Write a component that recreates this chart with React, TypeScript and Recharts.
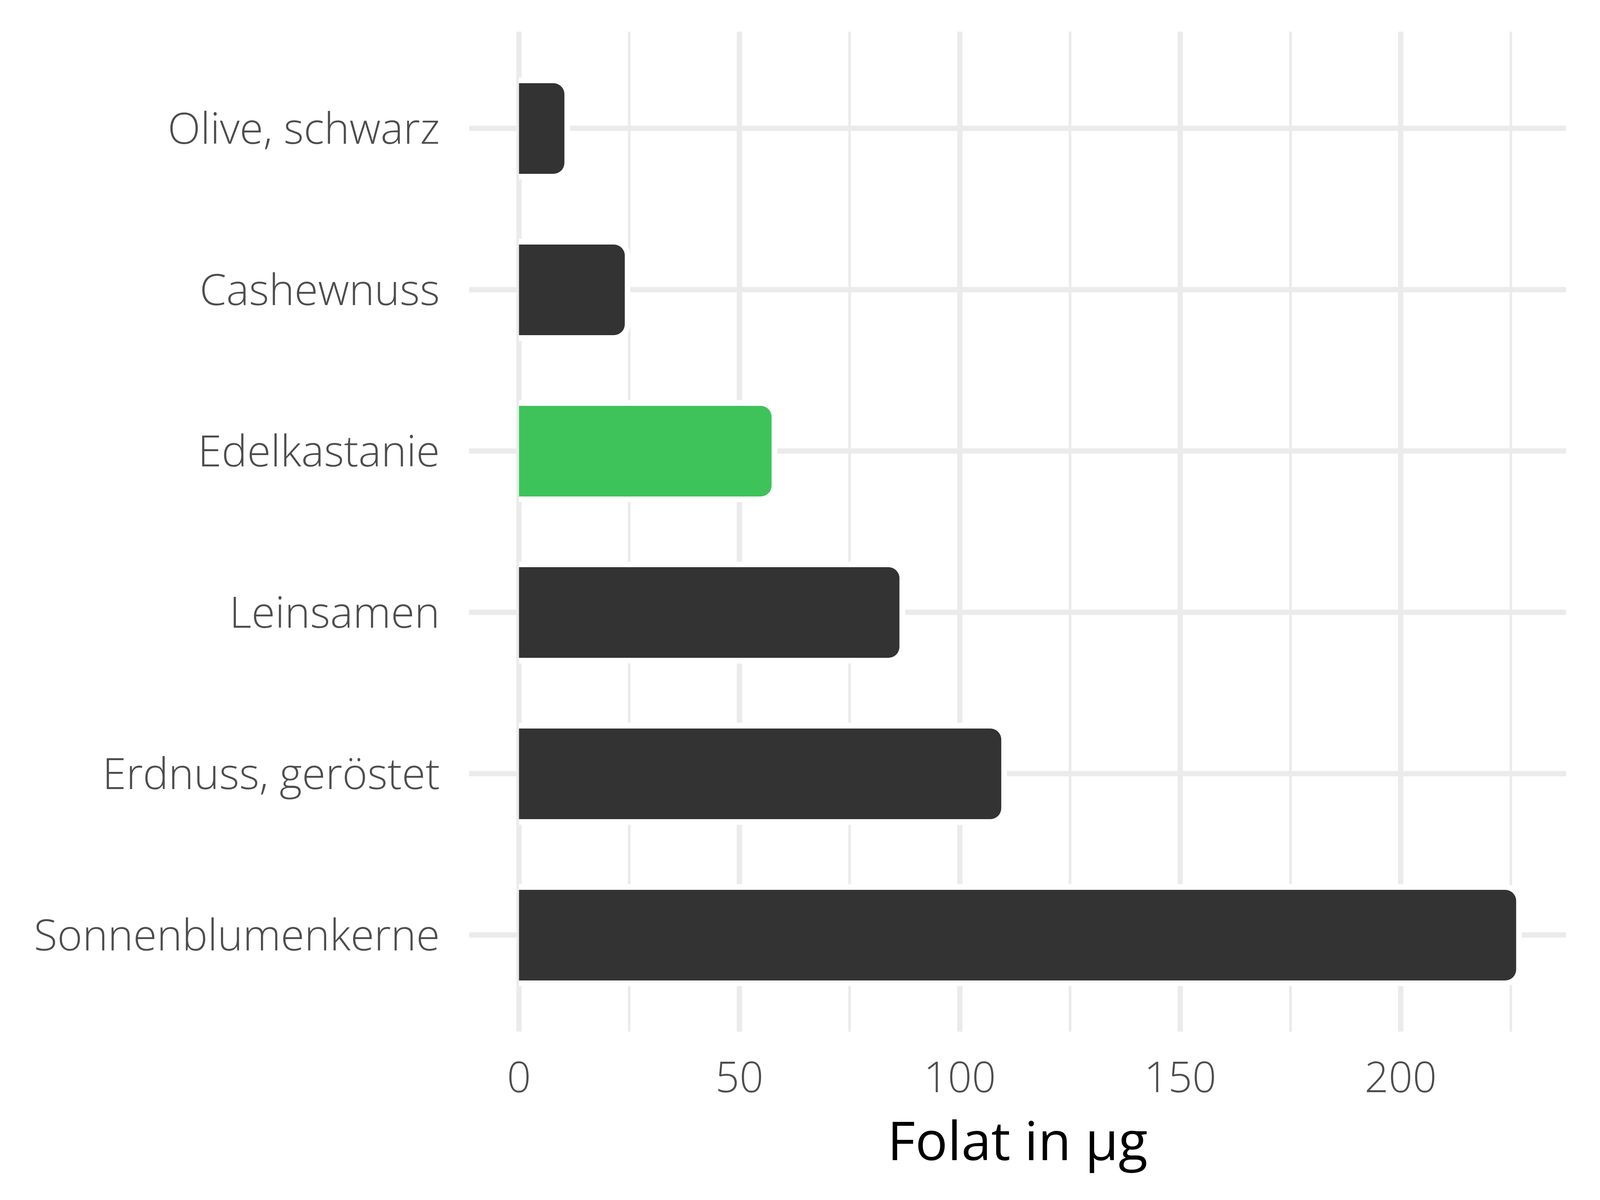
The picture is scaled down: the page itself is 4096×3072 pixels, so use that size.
import { BarChart, Bar, XAxis, YAxis, CartesianGrid, Cell } from "recharts";

// ── Data ──────────────────────────────────────────────────────────────────────

const foods = [
  "Olive, schwarz",
  "Cashewnuss",
  "Edelkastanie",
  "Leinsamen",
  "Erdnuss, geröstet",
  "Sonnenblumenkerne",
];
const folate = [10.3, 24, 57.3, 86.3, 109.4, 226.2];
const highlighted = "Edelkastanie";
const xTicks = [0, 25, 50, 75, 100, 125, 150, 175, 200, 225];

const data = foods.map((name, i) => ({ name, folate: folate[i] }));

const maxValue = Math.max(...folate);
const pad = maxValue * 0.05;

// ── Styling ───────────────────────────────────────────────────────────────────

const GRID = "#EBEBEB";
const DARK = "#333333";
const GREEN = "#3EC35A";
const FONT = "'Open Sans', 'Noto Sans', sans-serif";

const HALO = 14.5;
const RADIUS = 28;

function rightRounded(x: number, y: number, w: number, h: number, r: number) {
  const rr = Math.max(0, Math.min(r, w, h / 2));
  return [
    `M${x},${y}`,
    `H${x + w - rr}`,
    `A${rr},${rr} 0 0 1 ${x + w},${y + rr}`,
    `V${y + h - rr}`,
    `A${rr},${rr} 0 0 1 ${x + w - rr},${y + h}`,
    `H${x}`,
    "Z",
  ].join(" ");
}

function RoundedBar(props: any) {
  const { x, y, width, height, fill } = props;
  if (!width || width <= 0) return null;
  return (
    <g>
      <path
        d={rightRounded(x, y - HALO, width + HALO, height + 2 * HALO, RADIUS + HALO)}
        fill="#ffffff"
      />
      <path d={rightRounded(x, y, width, height, RADIUS)} fill={fill} />
    </g>
  );
}

// grid lines on the panel border are not drawn in the original
function VerticalLine(props: any) {
  const { x1, y1, x2, y2, index, x, width } = props;
  if (Math.abs(x1 - x) < 1 || Math.abs(x1 - (x + width)) < 1) return <g />;
  const major = index % 2 === 0;
  return (
    <line
      x1={x1}
      y1={y1}
      x2={x2}
      y2={y2}
      stroke={GRID}
      strokeWidth={major ? 13.6 : 6.8}
    />
  );
}

function HorizontalLine(props: any) {
  const { x1, y1, x2, y2, y, height } = props;
  if (Math.abs(y1 - y) < 1 || Math.abs(y1 - (y + height)) < 1) return <g />;
  return <line x1={x1} y1={y1} x2={x2} y2={y2} stroke={GRID} strokeWidth={13.6} />;
}

export default function App() {
  return (
    <div
      style={{
        position: "absolute",
        left: 0,
        top: 0,
        width: 4096,
        height: 3072,
        background: "#ffffff",
      }}
    >
      <BarChart
        width={4096}
        height={3072}
        data={data}
        layout="vertical"
        margin={{ top: 81, right: 87, bottom: 0, left: 0 }}
      >
        <CartesianGrid vertical={VerticalLine} horizontal={HorizontalLine} />
        <XAxis
          type="number"
          dataKey="folate"
          domain={[-pad, maxValue + pad]}
          allowDataOverflow
          ticks={xTicks}
          interval={0}
          tickFormatter={(v: number) => (v % 50 === 0 ? String(v) : "")}
          axisLine={false}
          tickLine={false}
          tickSize={0}
          tickMargin={78}
          height={431}
          tick={{ fill: "#4D4D4D", fontSize: 108, fontFamily: FONT, fontWeight: 300 }}
          label={{
            value: "Folat in µg",
            position: "insideBottom",
            offset: 102,
            fill: "#000000",
            fontSize: 138,
            fontFamily: FONT,
            fontWeight: 400,
          }}
        />
        <YAxis
          type="category"
          dataKey="name"
          width={1201}
          padding={{ top: 41, bottom: 41 }}
          axisLine={false}
          tickLine={false}
          tickSize={0}
          tickMargin={75}
          interval={0}
          tick={{ fill: "#4D4D4D", fontSize: 110, fontFamily: FONT, fontWeight: 300 }}
        />
        <Bar
          dataKey="folate"
          barSize={232}
          isAnimationActive={false}
          shape={<RoundedBar />}
        >
          {data.map((d) => (
            <Cell key={d.name} fill={d.name === highlighted ? GREEN : DARK} />
          ))}
        </Bar>
      </BarChart>
    </div>
  );
}
